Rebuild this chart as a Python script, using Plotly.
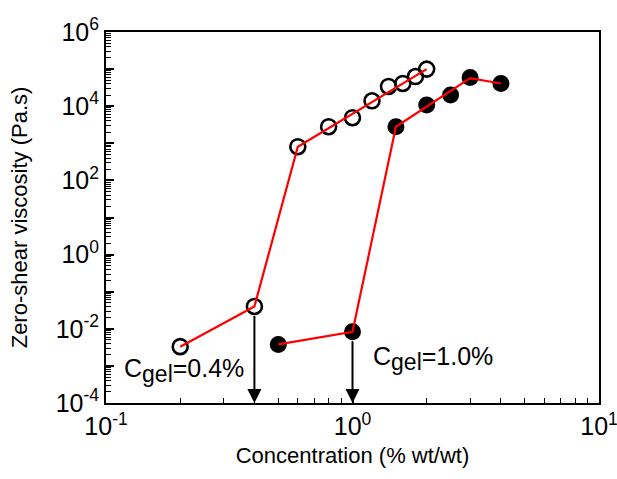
import plotly.graph_objects as go
import numpy as np

# Open circles (first sample)
open_x = [0.2, 0.4, 0.6, 0.8, 1.0, 1.2, 1.4, 1.6, 1.8, 2.0]
open_y = [0.0033, 0.04, 810, 2800, 4900, 14000, 34000, 41000, 63000, 100000]
open_fit_x = [0.2, 0.4, 0.6, 2.0]
open_fit_y = [0.0033, 0.04, 810, 100000]

# Filled circles (second sample)
fill_x = [0.5, 1.0, 1.5, 2.0, 2.5, 3.0, 4.0]
fill_y = [0.0038, 0.0083, 2800, 10700, 20000, 59000, 41000]
fill_fit_x = [0.5, 1.0, 1.5, 3.0, 4.0]
fill_fit_y = [0.0038, 0.0083, 2800, 57000, 41000]

cgel = [0.4, 1.0]
cgel_y = [0.04, 0.0083]
cgel_labels = ["0.4%", "1.0%"]

y_label_vals = [10.0**k for k in range(-4, 7, 2)]
y_label_text = ["10<sup>%d</sup>" % k for k in range(-4, 7, 2)]
y_decades = [10.0**k for k in range(-4, 7)]
x_tickvals = [0.1, 1, 10]
x_ticktext = ["10<sup>-1</sup>", "10<sup>0</sup>", "10<sup>1</sup>"]

FONT = "Liberation Sans, Arial, sans-serif"

fig = go.Figure()
fig.add_trace(go.Scatter(x=open_x, y=open_y, mode="markers",
                         marker=dict(symbol="circle-open", size=15, color="black",
                                     line=dict(width=2.6, color="black")),
                         showlegend=False))
fig.add_trace(go.Scatter(x=fill_x, y=fill_y, mode="markers",
                         marker=dict(symbol="circle", size=17, color="black"),
                         showlegend=False))
fig.add_trace(go.Scatter(x=open_fit_x, y=open_fit_y, mode="lines",
                         line=dict(color="red", width=2.2), showlegend=False))
fig.add_trace(go.Scatter(x=fill_fit_x, y=fill_fit_y, mode="lines",
                         line=dict(color="red", width=2.2), showlegend=False))
# invisible trace to activate the overlay axis carrying the decade ticks
fig.add_trace(go.Scatter(x=[fill_x[0]], y=[fill_y[0]], yaxis="y2", mode="markers",
                         marker=dict(opacity=0), hoverinfo="skip", showlegend=False))

# Arrows from the gel points down to the axis
for cx, cy in zip(cgel, cgel_y):
    fig.add_annotation(x=np.log10(cx), y=-4, ax=0, ay=-(403 - (32 + (6 - np.log10(cy)) * 37.1)) + 8,
                       xref="x", yref="y", axref="pixel", ayref="pixel",
                       showarrow=True, arrowhead=2, arrowsize=1.4, arrowwidth=2,
                       arrowcolor="black", text="")

SUB = '<sub><span style="font-size:23px">gel</span></sub>'
fig.add_annotation(x=-0.935, y=-3.13, xref="x", yref="y",
                   text="C" + SUB + "=" + cgel_labels[0], showarrow=False,
                   font=dict(size=25, color="black", family=FONT), xanchor="left")
fig.add_annotation(x=0.075, y=-2.8, xref="x", yref="y",
                   text="C" + SUB + "=" + cgel_labels[1], showarrow=False,
                   font=dict(size=25, color="black", family=FONT), xanchor="left")

fig.update_xaxes(type="log", range=[-1, 1], tickvals=x_tickvals, ticktext=x_ticktext,
                 ticks="inside", ticklen=8, tickwidth=1.5, tickcolor="black",
                 minor=dict(ticks="inside", ticklen=5, tickwidth=1.2, tickcolor="black", dtick="D1"),
                 showline=True, linecolor="black", linewidth=2, mirror=True,
                 showgrid=False, zeroline=False, ticklabeloverflow="allow", automargin=False,
                 tickfont=dict(size=25, family=FONT, color="black"),
                 title=dict(text="Concentration (% wt/wt)", font=dict(size=22, family=FONT, color="black"),
                            standoff=9))
fig.update_layout(
    yaxis=dict(type="log", range=[-4, 6], tickvals=y_label_vals, ticktext=y_label_text,
               ticks="inside", ticklen=8, tickwidth=1.5, tickcolor="black",
               minor=dict(ticks="inside", ticklen=5, tickwidth=1.2, tickcolor="black", dtick="D1"),
               showline=True, linecolor="black", linewidth=2, mirror=True,
               showgrid=False, zeroline=False, ticklabeloverflow="allow", automargin=False,
               tickfont=dict(size=25, family=FONT, color="black"),
               title=dict(text="Zero-shear viscosity (Pa.s)", font=dict(size=22, family=FONT, color="black"),
                          standoff=22)),
    yaxis2=dict(type="log", range=[-4, 6], overlaying="y", side="left", tickvals=y_decades,
                ticks="inside", ticklen=8, tickwidth=1.5, tickcolor="black", automargin=False,
                showticklabels=False, showline=False, showgrid=False, zeroline=False),
)

fig.update_layout(width=617, height=479, margin=dict(l=106, r=18, t=32, b=76, autoexpand=False),
                  plot_bgcolor="white", paper_bgcolor="white", showlegend=False,
                  font=dict(family=FONT, color="black"))

fig.write_html("out.html")
